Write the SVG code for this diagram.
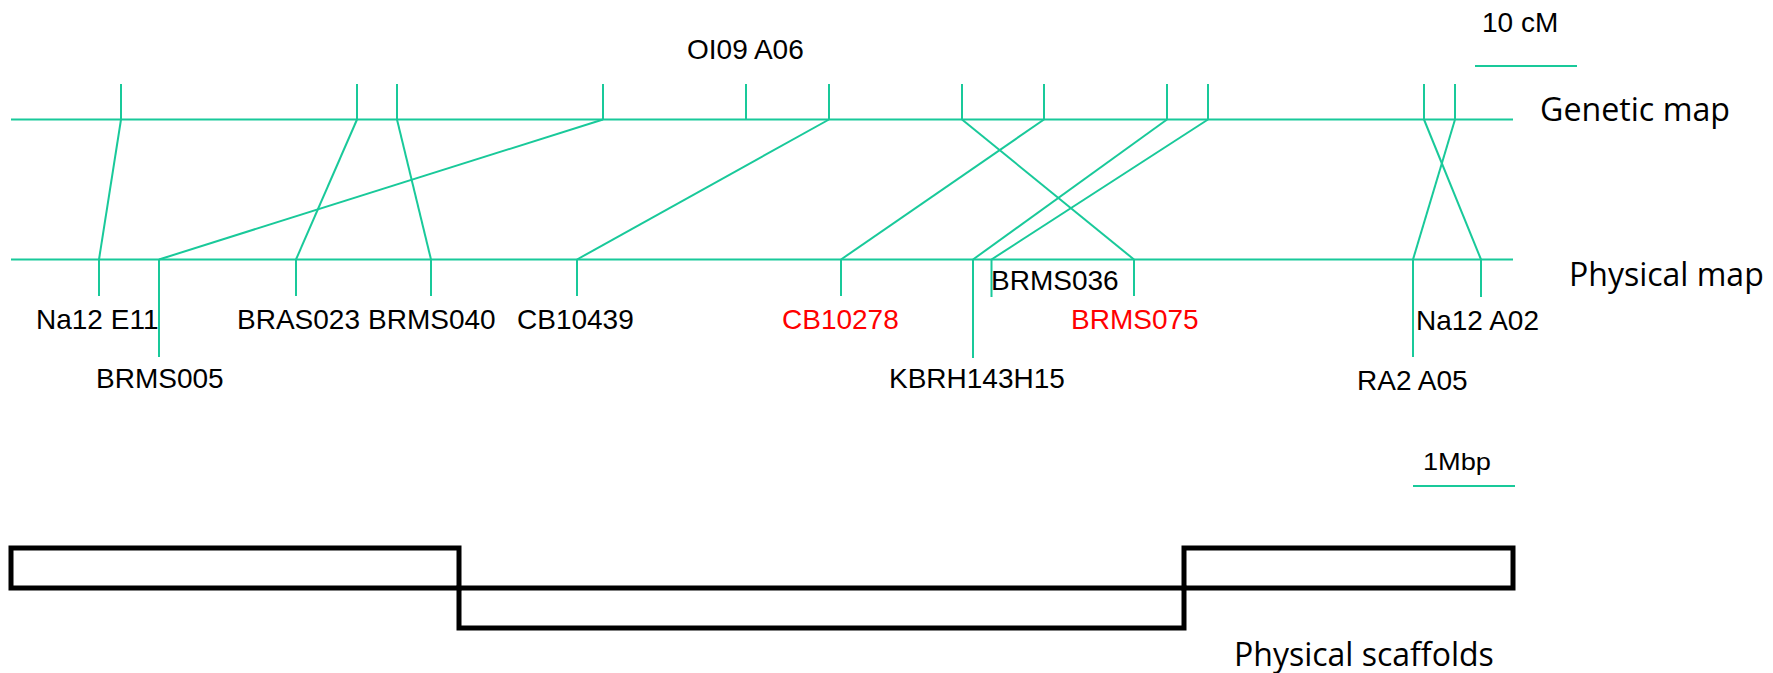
<svg xmlns="http://www.w3.org/2000/svg" width="1773" height="673" viewBox="0 0 1773 673">
<style>
.ln{stroke:#19C99A;stroke-width:2;fill:none}
.lb{font-family:"Liberation Sans",Arial,sans-serif;font-size:28px;fill:#000}
.red{fill:#FF0000}
.ti{font-family:"Open Sans","Noto Sans",sans-serif;font-size:32px;fill:#000}
.sc{stroke:#000;stroke-width:5;fill:none}
</style>
<rect width="1773" height="673" fill="#fff"/>
<g id="axes">
<line class="ln" x1="11" y1="119.5" x2="1513" y2="119.5"/>
<line class="ln" x1="11" y1="259.5" x2="1513" y2="259.5"/>
<text class="ti" x="1540" y="121" textLength="190" lengthAdjust="spacingAndGlyphs">Genetic map</text>
<text class="ti" x="1569" y="286">Physical map</text>
</g>
<g id="scale-cM">
<line class="ln" x1="1475" y1="66" x2="1577" y2="66"/>
<text class="lb" x="1482" y="32" font-size="27">10 cM</text>
</g>
<g id="scale-Mbp">
<line class="ln" x1="1413" y1="486" x2="1515" y2="486"/>
<text class="lb" x="1423" y="470" style="font-size:24px" textLength="68" lengthAdjust="spacingAndGlyphs">1Mbp</text>
</g>
<g id="genetic-ticks">
<line class="ln" x1="121" y1="84" x2="121" y2="119.5"/>
<line class="ln" x1="357" y1="84" x2="357" y2="119.5"/>
<line class="ln" x1="397" y1="84" x2="397" y2="119.5"/>
<line class="ln" x1="603" y1="84" x2="603" y2="119.5"/>
<line class="ln" x1="746" y1="84" x2="746" y2="119.5"/>
<line class="ln" x1="829" y1="84" x2="829" y2="119.5"/>
<line class="ln" x1="962" y1="84" x2="962" y2="119.5"/>
<line class="ln" x1="1044" y1="84" x2="1044" y2="119.5"/>
<line class="ln" x1="1167" y1="84" x2="1167" y2="119.5"/>
<line class="ln" x1="1208" y1="84" x2="1208" y2="119.5"/>
<line class="ln" x1="1424" y1="84" x2="1424" y2="119.5"/>
<line class="ln" x1="1455" y1="84" x2="1455" y2="119.5"/>
<text class="lb" x="687" y="59">OI09 A06</text>
</g>
<g id="Na12E11"><line class="ln" x1="99" y1="259.5" x2="99" y2="296"/><text class="lb" x="36" y="329">Na12 E11</text></g>
<g id="BRMS005"><line class="ln" x1="159" y1="259.5" x2="159" y2="357"/><text class="lb" x="96" y="388">BRMS005</text></g>
<g id="BRAS023"><line class="ln" x1="296" y1="259.5" x2="296" y2="296"/><text class="lb" x="237" y="329">BRAS023</text></g>
<g id="BRMS040"><line class="ln" x1="431" y1="259.5" x2="431" y2="296"/><text class="lb" x="368" y="329">BRMS040</text></g>
<g id="CB10439"><line class="ln" x1="577" y1="259.5" x2="577" y2="296"/><text class="lb" x="517" y="329">CB10439</text></g>
<g id="CB10278"><line class="ln" x1="841" y1="259.5" x2="841" y2="296"/><text class="lb red" x="782" y="329">CB10278</text></g>
<g id="KBRH143H15"><line class="ln" x1="973" y1="259.5" x2="973" y2="358"/><text class="lb" x="889" y="388">KBRH143H15</text></g>
<g id="BRMS036"><line class="ln" x1="991.5" y1="259.5" x2="991.5" y2="297"/><text class="lb" x="991" y="290">BRMS036</text></g>
<g id="BRMS075"><line class="ln" x1="1134" y1="259.5" x2="1134" y2="296"/><text class="lb red" x="1071" y="329">BRMS075</text></g>
<g id="RA2A05"><line class="ln" x1="1413" y1="259.5" x2="1413" y2="357"/><text class="lb" x="1357" y="390">RA2 A05</text></g>
<g id="Na12A02"><line class="ln" x1="1481" y1="259.5" x2="1481" y2="297"/><text class="lb" x="1416" y="330">Na12 A02</text></g>
<g id="connectors">
<line class="ln" x1="121" y1="119.5" x2="99" y2="259.5"/>
<line class="ln" x1="357" y1="119.5" x2="296" y2="259.5"/>
<line class="ln" x1="397" y1="119.5" x2="431" y2="259.5"/>
<line class="ln" x1="603" y1="119.5" x2="159" y2="259.5"/>
<line class="ln" x1="829" y1="119.5" x2="577" y2="259.5"/>
<line class="ln" x1="1044" y1="119.5" x2="841" y2="259.5"/>
<line class="ln" x1="962" y1="119.5" x2="1134" y2="259.5"/>
<line class="ln" x1="1167" y1="119.5" x2="973" y2="259.5"/>
<line class="ln" x1="1208" y1="119.5" x2="991.5" y2="259.5"/>
<line class="ln" x1="1424" y1="119.5" x2="1481" y2="259.5"/>
<line class="ln" x1="1455" y1="119.5" x2="1413" y2="259.5"/>
</g>
<g id="scaffolds">
<rect class="sc" x="11" y="548" width="448" height="40"/>
<rect class="sc" x="459" y="588" width="725" height="40"/>
<rect class="sc" x="1184" y="548" width="329" height="40"/>
<text class="ti" x="1234" y="666">Physical scaffolds</text>
</g>
</svg>
